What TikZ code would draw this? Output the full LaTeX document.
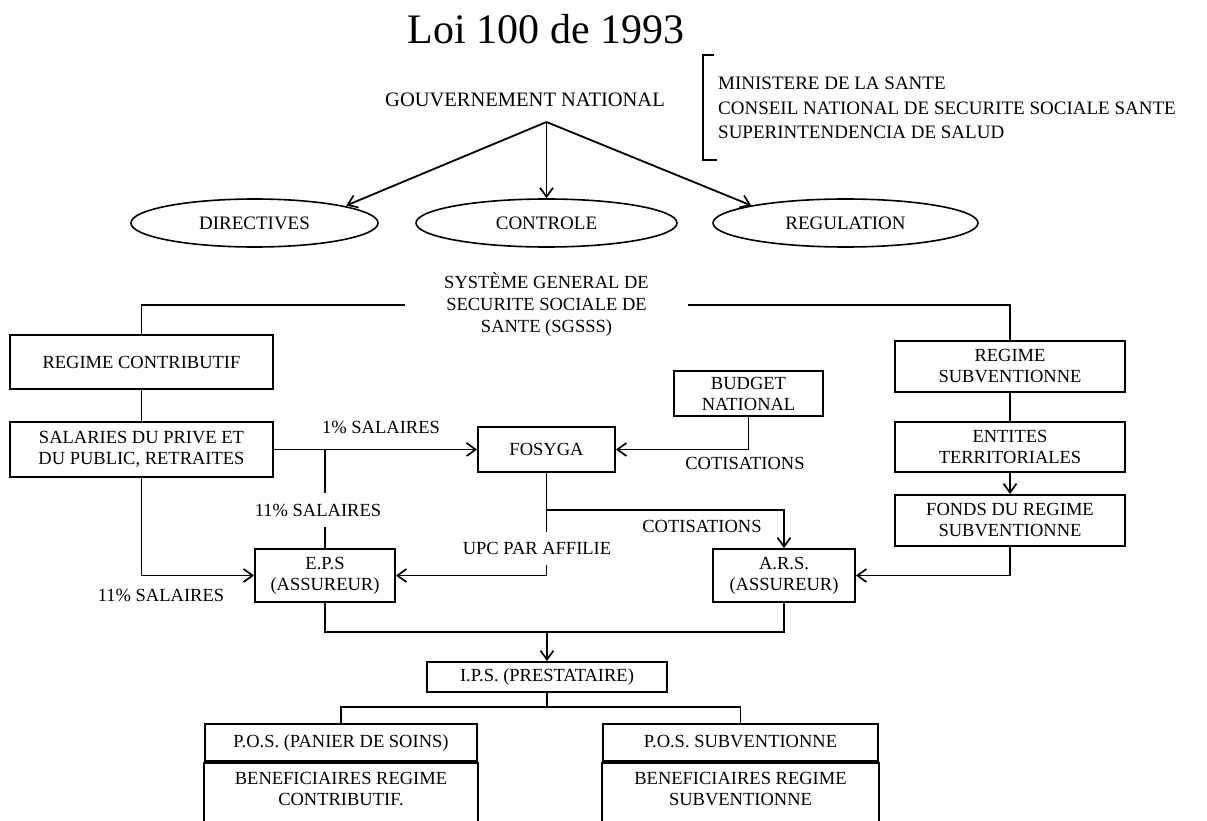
\documentclass[tikz,border=0pt]{standalone}
\usepackage{fontspec}
\setmainfont{Liberation Serif}
\usetikzlibrary{arrows.meta,shapes.geometric}
\begin{document}
\begin{tikzpicture}[x=1pt,y=-1pt,
  ln/.style={line width=1.8pt, draw=black},
  arr/.style={ln, -{Straight Barb[length=9pt,width=13pt,line width=1.7pt]}},
  bx/.style={draw=black, line width=1.9pt, rectangle, inner sep=0pt, align=center, font=\fontsize{18.5pt}{21pt}\selectfont},
  el/.style={draw=black, line width=1.6pt, ellipse, inner sep=0pt, minimum height=48pt, font=\fontsize{19pt}{22pt}\selectfont},
  lbl/.style={inner sep=0pt, align=center, font=\fontsize{18.5pt}{22pt}\selectfont},
]
\useasboundingbox (0,0) rectangle (1207,821);
\fill[white] (0,0) rectangle (1207,821);
\clip (0,0) rectangle (1207,821);

% title and government
\node[lbl, font=\fontsize{42pt}{48pt}\selectfont] (title) at (546,29) {Loi 100 de 1993};
\node[lbl, font=\fontsize{20.5pt}{24pt}\selectfont] (gov) at (525,100) {GOUVERNEMENT NATIONAL};
\coordinate (apex) at (546.5,122);
\draw[ln] (714,55) -| (703,160) -- (717,160);
\node[lbl, anchor=west, align=left, font=\fontsize{19pt}{24.5pt}\selectfont] (info) at (718,108)
  {MINISTERE DE LA SANTE\\CONSEIL NATIONAL DE SECURITE SOCIALE SANTE\\SUPERINTENDENCIA DE SALUD};

\node[el, minimum width=247pt] (dir) at (254.5,223) {DIRECTIVES};
\node[el, minimum width=261pt] (ctl) at (546.5,223) {CONTROLE};
\node[el, minimum width=265pt] (reg) at (845.5,223) {REGULATION};
\draw[arr] (apex) -- ([xshift=4pt]dir.north east);
\draw[arr] (apex) -- (ctl.north);
\draw[arr] (apex) -- (reg.north west);

% SGSSS
\node[lbl, minimum width=283pt] (sg) at (546.5,305) {SYSTÈME GENERAL DE\\SECURITE SOCIALE DE\\SANTE (SGSSS)};

\node[bx, minimum width=263pt, minimum height=54pt] (rc) at (141.5,362) {REGIME CONTRIBUTIF};
\node[bx, minimum width=263pt, minimum height=55pt] (sal) at (141.5,449.5) {SALARIES DU PRIVE ET\\DU PUBLIC, RETRAITES};
\node[bx, minimum width=137pt, minimum height=45pt] (fos) at (546.5,449.5) {FOSYGA};
\node[bx, minimum width=149pt, minimum height=45pt] (bud) at (748.5,393.5) {BUDGET\\NATIONAL};
\node[bx, minimum width=140pt, minimum height=53pt] (eps) at (325,575.5) {E.P.S\\(ASSUREUR)};
\node[bx, minimum width=142pt, minimum height=53pt] (ars) at (784,575.5) {A.R.S.\\(ASSUREUR)};
\node[bx, minimum width=230pt, minimum height=51pt] (rs) at (1010,366.5) {REGIME\\SUBVENTIONNE};
\node[bx, minimum width=230pt, minimum height=50pt] (ent) at (1010,447) {ENTITES\\TERRITORIALES};
\node[bx, minimum width=230pt, minimum height=51pt] (fon) at (1010,520.5) {FONDS DU REGIME\\SUBVENTIONNE};
\node[bx, minimum width=240pt, minimum height=30pt] (ips) at (547,677) {I.P.S. (PRESTATAIRE)};

% labels
\node[lbl] (l1) at (381,427) {1\% SALAIRES};
\node[lbl, minimum height=34pt] (l11a) at (318,510) {11\% SALAIRES};
\node[lbl] (l11b) at (161,595) {11\% SALAIRES};
\node[lbl, minimum height=33pt] (upc) at (537,548.5) {UPC PAR AFFILIE};
\node[lbl] (cot1) at (702,526) {COTISATIONS};
\node[lbl] (cot2) at (745,463) {COTISATIONS};

% connectors
\draw[ln] (sg.west) -| (rc.north);
\draw[ln] (sg.east) -| (rs.north);
\draw[ln] (rc.south) -- (sal.north);
\draw[arr] (sal.east) -- (fos.west);
\draw[ln] (eps.north |- sal.east) -- (eps.north |- l11a.north);
\draw[ln] (eps.north |- l11a.south) -- (eps.north);
\draw[arr] (sal.south) |- (eps.west);
\draw[arr] (bud.south) |- (fos.east);
\coordinate (j1) at (546.5,510);
\draw[ln] (fos.south) -- (j1);
\draw[arr] (j1) -| (ars.north);
\draw[ln] (j1) -- (j1 |- upc.north);
\draw[arr] (j1 |- upc.south) |- (eps.east);
\draw[ln] (rs.south) -- (ent.north);
\draw[arr] (ent.south) -- (fon.north);
\draw[arr] (fon.south) |- (ars.east);
\coordinate (j2) at (547,632);
\draw[ln] (eps.south) |- (j2) -| (ars.south);
\draw[arr] (j2) -- (ips.north);

% bottom boxes
\node[bx, minimum width=272pt, minimum height=37pt, text height=13pt, text depth=4pt] (pos1) at (341,742.5) {P.O.S. (PANIER DE SOINS)};
\node[bx, minimum width=275pt, minimum height=37pt, text height=13pt, text depth=4pt] (pos2) at (740.5,742.5) {P.O.S. SUBVENTIONNE};
\coordinate (j3) at (547,707);
\draw[ln] (ips.south) -- (j3);
\draw[ln] (j3) -| (pos1.north);
\draw[ln] (j3) -| (pos2.north);
\draw[line width=4.5pt, draw=black] (pos1.south west) -- (pos1.south east);
\draw[line width=4.5pt, draw=black] (pos2.south west) -- (pos2.south east);
\draw[ln, line width=1.9pt] (pos1.south west) -- ++(0,70);
\draw[ln, line width=1.9pt] (pos1.south east) -- ++(0,70);
\draw[ln, line width=1.9pt] (pos2.south west) -- ++(0,70);
\draw[ln, line width=1.9pt] (pos2.south east) -- ++(0,70);
\node[lbl, font=\fontsize{18.5pt}{21pt}\selectfont] (ben1) at (341,789) {BENEFICIAIRES REGIME\\CONTRIBUTIF.};
\node[lbl, font=\fontsize{18.5pt}{21pt}\selectfont] (ben2) at (740.5,789) {BENEFICIAIRES REGIME\\SUBVENTIONNE};
\end{tikzpicture}
\end{document}
